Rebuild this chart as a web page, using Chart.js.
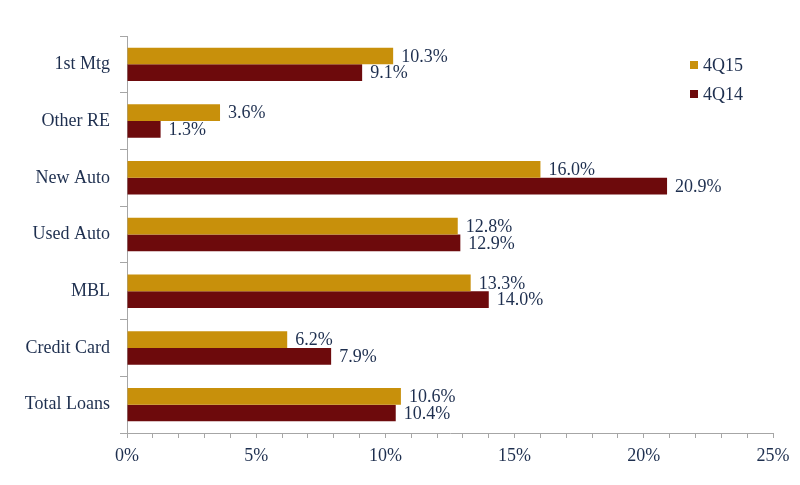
<!DOCTYPE html>
<html>
<head>
<meta charset="utf-8">
<script src="https://cdn.jsdelivr.net/npm/chart.js@4"></script>
<style>
  html, body { margin: 0; padding: 0; background: #fff; }
  #wrap { width: 800px; height: 485px; }
</style>
</head>
<body>
<div id="wrap"><canvas id="loanChart"></canvas></div>
<script>
const categories = ['1st Mtg', 'Other RE', 'New Auto', 'Used Auto', 'MBL', 'Credit Card', 'Total Loans']
const q15 = [10.3, 3.6, 16.0, 12.8, 13.3, 6.2, 10.6]
const q14 = [9.1, 1.3, 20.9, 12.9, 14.0, 7.9, 10.4]
const seriesNames = ['4Q15', '4Q14']

const gold = '#c8900b'
const maroon = '#6d0a0c'
const textColor = '#1e2f4f'
const fontFamily = '"Liberation Serif", serif'

const ctx = document.getElementById('loanChart')

const valueLabels = {
    id: 'valueLabels',
    afterDatasetsDraw (chart) {
        const {ctx} = chart
        ctx.save()
        ctx.font = `18px ${fontFamily}`
        ctx.fillStyle = textColor
        ctx.textAlign = 'left'
        ctx.textBaseline = 'middle'
        chart.data.datasets.forEach((ds, i) => {
            chart.getDatasetMeta(i).data.forEach((bar, j) => {
                ctx.fillText(ds.data[j].toFixed(1) + '%', bar.x + 8, bar.y + 1)
            })
        })
        ctx.restore()
    }
}

const sideLegend = {
    id: 'sideLegend',
    afterDraw (chart) {
        const {ctx} = chart
        ctx.save()
        ctx.font = `18px ${fontFamily}`
        ctx.textBaseline = 'middle'
        ctx.textAlign = 'left'
        chart.data.datasets.forEach((ds, i) => {
            const y = 65 + i * 29
            ctx.fillStyle = ds.backgroundColor
            ctx.fillRect(690, y - 4, 8, 8)
            ctx.fillStyle = textColor
            ctx.fillText(ds.label, 703, y + 1)
        })
        ctx.restore()
    }
}

new Chart(ctx, {
    type: 'bar',
    data: {
        labels: categories,
        datasets: [
            {label: seriesNames[0], data: q15, backgroundColor: gold},
            {label: seriesNames[1], data: q14, backgroundColor: maroon}
        ]
    },
    options: {
        indexAxis: 'y',
        responsive: true,
        maintainAspectRatio: false,
        animation: false,
        datasets: {
            bar: {categoryPercentage: 0.59, barPercentage: 1.0}
        },
        layout: {padding: {top: 36, right: 27, left: 0, bottom: 0}},
        plugins: {
            legend: {display: false},
            tooltip: {enabled: false}
        },
        scales: {
            x: {
                min: 0,
                max: 25,
                border: {display: true, color: '#a6a6a6', width: 1},
                grid: {drawOnChartArea: false, drawTicks: true, tickLength: 5, color: '#a6a6a6'},
                ticks: {
                    stepSize: 1,
                    autoSkip: false,
                    maxRotation: 0,
                    padding: 7,
                    color: textColor,
                    font: {family: fontFamily, size: 18},
                    callback: (v) => v % 5 === 0 ? v + '%' : ''
                },
                afterFit (scale) { scale.height = 52 }
            },
            y: {
                border: {display: true, color: '#a6a6a6', width: 1},
                grid: {drawOnChartArea: false, drawTicks: true, tickLength: 7, color: '#a6a6a6', offset: true},
                ticks: {
                    padding: 10,
                    color: textColor,
                    font: {family: fontFamily, size: 18}
                },
                afterFit (scale) { scale.width = 127 }
            }
        }
    },
    plugins: [valueLabels, sideLegend]
})
</script>
</body>
</html>
